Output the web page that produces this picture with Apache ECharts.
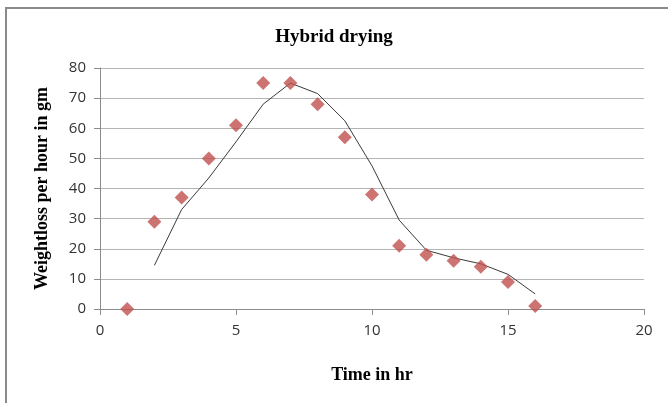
<!DOCTYPE html>
<html>
<head>
<meta charset="utf-8">
<script src="https://cdn.jsdelivr.net/npm/echarts@6/dist/echarts.min.js"></script>
<style>
html,body{margin:0;padding:0;background:#fff;}
#c{width:668px;height:403px;}
</style>
</head>
<body>
<div id="c"></div>
<script>
var titleText = 'Hybrid drying';
var xName = 'Time in hr';
var yName = 'Weightloss per hour in gm';
var hours = [1, 2, 3, 4, 5, 6, 7, 8, 9, 10, 11, 12, 13, 14, 15, 16];
var weightLoss = [0, 29, 37, 50, 61, 75, 75, 68, 57, 38, 21, 18, 16, 14, 9, 1];
var trendHours = [2, 3, 4, 5, 6, 7, 8, 9, 10, 11, 12, 13, 14, 15, 16];
var trendValues = [14.5, 33, 43.5, 55.5, 68, 75, 71.5, 62.5, 47.5, 29.5, 19.5, 17, 15, 11.5, 5];

var chart = echarts.init(document.getElementById('c'));
var serif = '"Liberation Serif", "DejaVu Serif", serif';
var sans = '"Open Sans", "Liberation Sans", sans-serif';
chart.setOption({
  animation: false,
  backgroundColor: '#fff',
  title: {
    text: titleText,
    left: 'center',
    top: 23,
    textStyle: {fontFamily: serif, fontWeight: 'bold', fontSize: 19, color: '#000'}
  },
  grid: {left: 100, right: 24, top: 68, bottom: 94},
  graphic: [{
    type: 'rect',
    shape: {x: 6, y: 8, width: 700, height: 420},
    style: {fill: 'none', stroke: '#8a8a8a', lineWidth: 2},
    silent: true,
    z: 100
  }],
  xAxis: {
    type: 'value',
    min: 0, max: 20, interval: 5,
    name: xName,
    nameLocation: 'middle',
    nameGap: 57,
    nameTextStyle: {fontFamily: serif, fontWeight: 'bold', fontSize: 18, color: '#000'},
    axisLine: {show: true, onZero: false, lineStyle: {color: '#8c8c8c', width: 1}},
    axisTick: {show: true, inside: false, length: 6, lineStyle: {color: '#8c8c8c'}},
    axisLabel: {fontFamily: sans, fontSize: 15, color: '#333', margin: 14},
    splitLine: {show: false}
  },
  yAxis: {
    type: 'value',
    min: 0, max: 80, interval: 10,
    name: yName,
    nameLocation: 'middle',
    nameGap: 49,
    nameTextStyle: {fontFamily: serif, fontWeight: 'bold', fontSize: 18, color: '#000'},
    axisLine: {show: true, lineStyle: {color: '#8c8c8c', width: 1}},
    axisTick: {show: true, inside: false, length: 6, lineStyle: {color: '#8c8c8c'}},
    axisLabel: {fontFamily: sans, fontSize: 15, color: '#333', margin: 14},
    splitLine: {show: true, lineStyle: {color: '#b4b4b4', width: 1}}
  },
  series: [{
    type: 'line',
    data: trendHours.map(function (h, i) { return [h, trendValues[i]]; }),
    showSymbol: false,
    symbol: 'none',
    lineStyle: {color: '#3a3a3a', width: 1},
    z: 2
  }, {
    type: 'scatter',
    data: hours.map(function (h, i) { return [h, weightLoss[i]]; }),
    symbol: 'diamond',
    symbolSize: 14,
    itemStyle: {color: '#C0504D'},
    z: 3
  }]
});
</script>
</body>
</html>
